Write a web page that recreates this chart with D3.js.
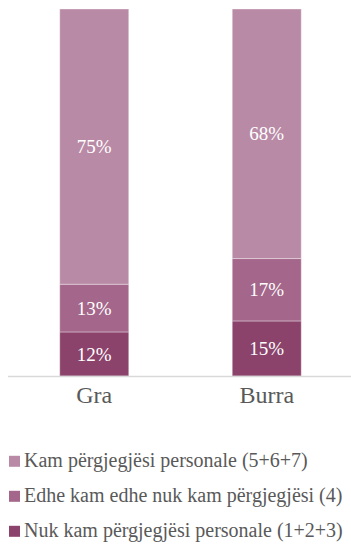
<!DOCTYPE html>
<html>
<head>
<meta charset="utf-8">
<script src="https://cdn.jsdelivr.net/npm/d3@7"></script>
<style>
  html, body { margin: 0; padding: 0; background: #fff; }
  svg { display: block; }
</style>
</head>
<body>
<svg id="chart" width="351" height="549"></svg>
<script>
// Categories and stacked shares (percent), bottom to top
const categories = ["Gra", "Burra"];
const seriesNames = [
  "Nuk kam përgjegjësi personale (1+2+3)",
  "Edhe kam edhe nuk kam përgjegjësi (4)",
  "Kam përgjegjësi personale (5+6+7)"
];
const noResponsibility = [12, 15];
const neither = [13, 17];
const responsibility = [75, 68];
const seriesColors = ["#8b436c", "#a4668a", "#b98aa6"];

const fontFamily = "'Liberation Serif', 'Times New Roman', serif";
const svg = d3.select("#chart");

const rows = categories.map((c, i) => ({
  cat: c,
  s0: noResponsibility[i],
  s1: neither[i],
  s2: responsibility[i]
}));
const keys = ["s0", "s1", "s2"];
const stacked = d3.stack().keys(keys)(rows);

const x = d3.scaleBand().domain(categories).range([8, 353]).paddingInner(0.6).paddingOuter(0.3);
const y = d3.scaleLinear().domain([0, 100]).range([376, 9]);

// bars
const layers = svg.append("g").selectAll("g").data(stacked).join("g")
  .attr("fill", (d, i) => seriesColors[i]);
layers.selectAll("rect").data(d => d).join("rect")
  .attr("x", d => x(d.data.cat))
  .attr("width", x.bandwidth())
  .attr("y", d => y(d[1]))
  .attr("height", d => y(d[0]) - y(d[1]))
  .attr("stroke", "#ffffff")
  .attr("stroke-opacity", 0.35)
  .attr("stroke-width", 1);

// value labels
layers.selectAll("text").data(d => d).join("text")
  .attr("x", d => x(d.data.cat) + x.bandwidth() / 2)
  .attr("y", d => (y(d[0]) + y(d[1])) / 2)
  .attr("dy", "0.35em")
  .attr("text-anchor", "middle")
  .attr("fill", "#ffffff")
  .attr("font-family", fontFamily)
  .attr("font-size", 19)
  .text(d => (d[1] - d[0]) + "%");

// category axis
const axis = svg.append("g").attr("transform", "translate(0,376)")
  .call(d3.axisBottom(x).tickSize(0).tickPadding(10));
axis.select(".domain").attr("stroke", "#d9d9d9").attr("stroke-width", 1.5)
  .attr("d", "M8,0.5H351");
axis.selectAll("text")
  .attr("font-family", fontFamily)
  .attr("font-size", 24)
  .attr("fill", "#595959");

// legend, top series first
const legendOrder = [2, 1, 0];
const legend = svg.append("g").selectAll("g").data(legendOrder).join("g")
  .attr("transform", (d, i) => `translate(9, ${467.3 + i * 35})`);
legend.append("rect")
  .attr("x", 0).attr("y", -11.5)
  .attr("width", 11).attr("height", 11)
  .attr("fill", d => seriesColors[d]);
legend.append("text")
  .attr("x", 15)
  .attr("font-family", fontFamily)
  .attr("font-size", 20)
  .attr("fill", "#595959")
  .text(d => seriesNames[d]);
</script>
</body>
</html>
